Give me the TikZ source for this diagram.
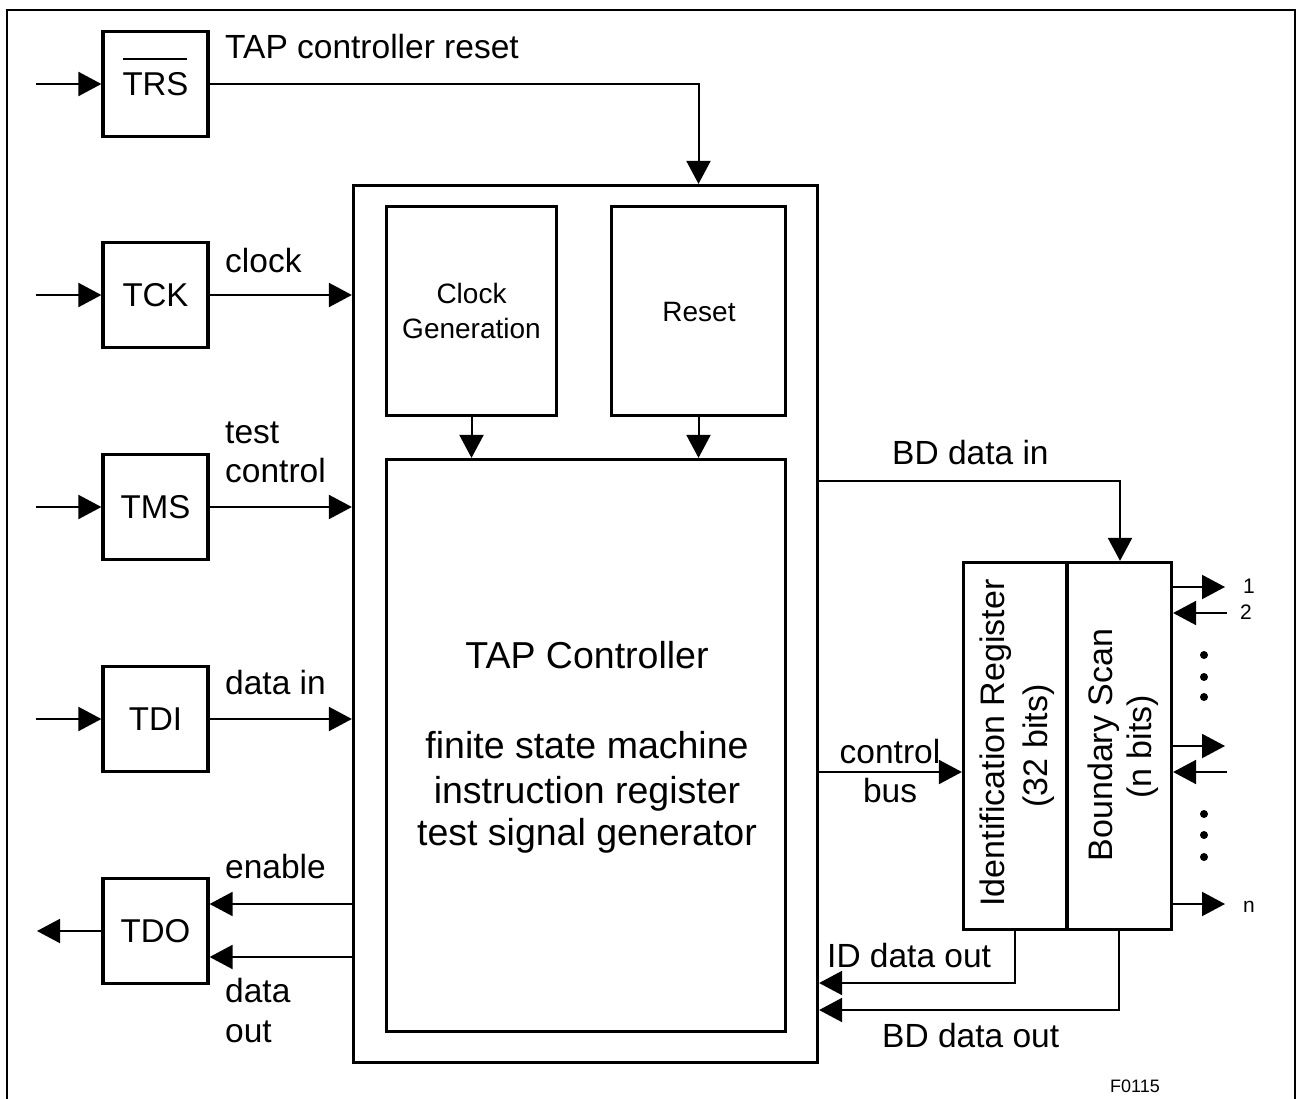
\documentclass[tikz,border=0pt]{standalone}
\usepackage{fontspec}
\setmainfont{Liberation Sans}
\usetikzlibrary{arrows.meta}
\begin{document}
\begin{tikzpicture}[x=1pt,y=-1pt,
  box/.style={draw, line width=3.2pt, inner sep=0pt},
  pinbox/.style={box, minimum width=105pt, minimum height=105pt, font=\fontsize{33}{40}\selectfont},
  lbl/.style={inner sep=0pt, anchor=base west, font=\fontsize{33.5}{40}\selectfont},
  clbl/.style={inner sep=0pt, anchor=base, font=\fontsize{33.5}{40}\selectfont},
  biglbl/.style={inner sep=0pt, anchor=base, font=\fontsize{37.5}{44}\selectfont},
  midlbl/.style={inner sep=0pt, anchor=base, font=\fontsize{28}{34}\selectfont},
  vlbl/.style={inner sep=0pt, anchor=base, rotate=90, font=\fontsize{34}{40}\selectfont},
  pinlbl/.style={inner sep=0pt, anchor=base west, font=\fontsize{21}{25}\selectfont},
  arr/.style={line width=2pt, -{Triangle[length=23pt,width=24pt]}},
  wire/.style={line width=2pt}]
\useasboundingbox (0,0) rectangle (1297,1099);
\draw[line width=2pt] (7,1110) -- (7,10) -- (1295,10) -- (1295,1110);

% pin boxes
\node[pinbox] (trs) at (155.5,84) {\makebox[0pt][l]{\smash{\rule[35pt]{64pt}{2pt}}}TRS};
\node[pinbox] (tck) at (155.5,295) {TCK};
\node[pinbox] (tms) at (155.5,507) {TMS};
\node[pinbox] (tdi) at (155.5,719) {TDI};
\node[pinbox] (tdo) at (155.5,931) {TDO};

% main blocks
\node[box, minimum width=464pt, minimum height=877pt] (big) at (585.5,624) {};
\node[box, minimum width=170pt, minimum height=209pt] (cg) at (471.5,311) {};
\node[box, minimum width=174pt, minimum height=209pt] (rst) at (698.5,311) {};
\node[box, minimum width=399pt, minimum height=572pt] (tap) at (586,745.5) {};
\node[box, minimum width=103.5pt, minimum height=367pt] (idr) at (1015.25,746) {};
\node[box, minimum width=104.5pt, minimum height=367pt] (bs) at (1119.25,746) {};

% texts inside blocks
\node[midlbl] (cgt1) at (471.5,303) {Clock};
\node[midlbl] (cgt2) at (471.5,338) {Generation};
\node[midlbl] (rstt) at (699,321) {Reset};
\node[biglbl] (tapt1) at (587,668) {TAP Controller};
\node[biglbl] (tapt2) at (587,758) {finite state machine};
\node[biglbl] (tapt3) at (587,803) {instruction register};
\node[biglbl] (tapt4) at (587,845) {test signal generator};
\node[vlbl] (idt1) at (1004,743) {Identification Register};
\node[vlbl] (idt2) at (1047,746) {(32 bits)};
\node[vlbl] (bst1) at (1112,745) {Boundary Scan};
\node[vlbl] (bst2) at (1151,747) {(n bits)};

% input wires
\coordinate (in1) at (36,84);
\coordinate (in2) at (36,295);
\coordinate (in3) at (36,507);
\coordinate (in4) at (36,719);
\coordinate (out5) at (37,931);
\draw[arr] (in1) -- (trs.west);
\draw[arr] (in2) -- (tck.west);
\draw[arr] (in3) -- (tms.west);
\draw[arr] (in4) -- (tdi.west);
\draw[arr] (tdo.west) -- (out5);

% signals to controller
\draw[arr] (trs.east) -| (rst.center |- big.north);
\draw[arr] (tck.east) -- (tck.east -| big.west);
\draw[arr] (tms.east) -- (tms.east -| big.west);
\draw[arr] (tdi.east) -- (tdi.east -| big.west);
\coordinate (en) at (352,904);
\coordinate (dout) at (352,957);
\draw[arr] (big.west |- en) -- (tdo.east |- en);
\draw[arr] (big.west |- dout) -- (tdo.east |- dout);
\draw[arr] (cg.south) -- (cg.south |- tap.north);
\draw[arr] (rst.south) -- (rst.south |- tap.north);

% right side
\coordinate (bdin) at (1120,481);
\draw[arr] (big.east |- bdin) -| (bdin |- bs.north);
\coordinate (cb) at (900,772);
\draw[arr] (big.east |- cb) -- (idr.west |- cb);
\coordinate (ido) at (900,983);
\coordinate (bdo) at (900,1010);
\draw[arr] (idr.south) |- (big.east |- ido);
\draw[arr] (bs.south) |- (big.east |- bdo);

% pins
\coordinate (p1) at (1225,587);
\coordinate (p2) at (1227,613);
\coordinate (p3) at (1225,746);
\coordinate (p4) at (1227,772);
\coordinate (pn) at (1225,904);
\draw[arr] (bs.east |- p1) -- (p1);
\draw[arr] (p2) -- (bs.east |- p2);
\draw[arr] (bs.east |- p3) -- (p3);
\draw[arr] (p4) -- (bs.east |- p4);
\draw[arr] (bs.east |- pn) -- (pn);
\foreach \yy in {655,677,697,814,835,857} \fill (1204,\yy) circle (4pt);
\node[pinlbl] (l1) at (1243,593) {1};
\node[pinlbl] (l2) at (1240,619) {2};
\node[pinlbl] (ln) at (1243,912) {n};

% labels
\node[lbl] (ltrs) at (225,59) {TAP controller reset};
\node[lbl] (lclk) at (225,272) {clock};
\node[lbl] (ltest) at (225,443) {test};
\node[lbl] (lctrl) at (225,482) {control};
\node[lbl] (ldin) at (225,694) {data in};
\node[lbl] (len) at (225,878) {enable};
\node[lbl] (ldata) at (225,1002) {data};
\node[lbl] (lout) at (225,1042) {out};
\node[clbl] (lcb1) at (890,763) {control};
\node[clbl] (lcb2) at (890,802) {bus};
\node[lbl] (lbdin) at (892,464) {BD data in};
\node[lbl] (lido) at (827,967) {ID data out};
\node[lbl] (lbdo) at (882,1047) {BD data out};
\node[inner sep=0pt, anchor=base west, font=\fontsize{18}{22}\selectfont] (fig) at (1110,1092) {F0115};
\end{tikzpicture}
\end{document}
